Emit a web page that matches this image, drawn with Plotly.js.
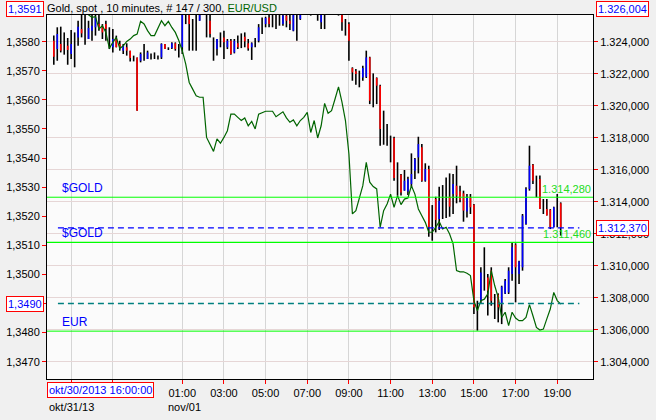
<!DOCTYPE html>
<html><head><meta charset="utf-8">
<script src="https://cdn.plot.ly/plotly-3.0.1.min.js"></script>
<style>html,body{margin:0;padding:0;background:#f0f0f0;}#chart{width:656px;height:420px;}</style>
</head><body><div id="chart"></div>
<script>
// Gold spot, 10-minute bars (USD), bar index 0..146
const gOpen = [
1324.06,1323.54,1323.86,1323.86,1323.75,1323.23,1323.65,1324.27,1324.79,1324.69,
1324.17,1324.69,1324.90,1325.10,1324.90,1325.10,1324.48,1323.65,1324.17,1323.86,
1323.44,1323.65,1323.44,1322.98,1323.02,1322.81,1323.33,1322.92,1323.06,1323.13,
1323.02,1323.02,1323.86,1323.56,1323.60,1323.90,1323.44,1323.65,1325.52,1325.73,
1324.48,1324.69,1325.31,1325.94,1325.10,1325.31,1323.65,1323.54,1324.06,1324.27,
1323.65,1324.06,1323.33,1323.90,1324.06,1324.31,1323.90,1323.65,1323.96,1324.06,
1325.00,1325.10,1325.52,1325.31,1325.21,1325.42,1325.10,1325.63,1325.31,1324.69,
1325.10,1325.42,1325.94,1326.15,1326.15,1326.35,1325.63,1325.21,1325.31,1326.15,
1326.15,1326.15,1325.94,1325.73,1325.00,1325.10,1322.35,1322.15,1321.77,1321.77,
1321.81,1323.02,1320.94,1321.73,1321.25,1318.54,1318.23,1317.40,1317.98,1315.94,
1315.69,1314.69,1314.63,1315.10,1315.94,1316.77,1317.40,1315.31,1316.04,1312.81,
1314.17,1312.92,1313.85,1314.27,1314.31,1314.48,1315.00,1314.65,1314.52,1313.38,
1314.27,1313.81,1307.40,1307.81,1309.69,1309.27,1309.69,1307.40,1308.19,1307.60,
1308.27,1308.33,1309.48,1311.31,1309.48,1309.90,1312.60,1314.79,1316.31,1315.10,
1315.42,1313.75,1313.54,1313.50,1312.40,1313.44,1313.90];
const gHigh = [
1324.38,1324.90,1324.94,1324.58,1324.23,1324.73,1324.58,1325.31,1325.73,1325.94,
1325.31,1325.83,1326.15,1325.94,1325.10,1325.31,1324.90,1324.79,1324.38,1324.06,
1323.86,1323.90,1323.44,1323.13,1323.02,1323.33,1323.86,1323.44,1323.27,1323.33,
1323.13,1323.90,1323.86,1323.65,1323.96,1323.96,1323.86,1326.15,1326.15,1326.15,
1325.42,1325.94,1326.15,1326.35,1325.94,1325.73,1324.27,1324.17,1324.58,1324.69,
1324.17,1324.17,1324.17,1324.38,1324.52,1324.58,1324.17,1323.96,1324.23,1325.10,
1325.52,1325.56,1325.73,1325.83,1325.83,1325.94,1325.94,1325.94,1325.94,1325.94,
1325.94,1326.15,1326.56,1326.56,1326.56,1326.77,1325.94,1325.94,1325.94,1326.56,
1326.56,1326.56,1326.35,1325.94,1325.42,1325.21,1322.40,1322.29,1322.19,1322.50,
1323.44,1323.06,1322.02,1321.77,1321.31,1319.69,1318.85,1318.13,1318.06,1316.46,
1315.73,1315.98,1315.56,1317.02,1316.73,1318.06,1317.60,1316.40,1316.25,1313.79,
1314.31,1314.94,1315.04,1315.52,1315.77,1315.73,1316.25,1315.00,1314.69,1314.48,
1314.48,1313.85,1307.81,1309.90,1311.15,1309.48,1309.90,1308.23,1308.27,1308.75,
1309.17,1309.90,1311.46,1311.40,1310.31,1313.23,1314.90,1317.50,1316.36,1315.63,
1315.63,1314.17,1314.17,1313.54,1313.69,1314.48,1313.96];
const gLow = [
1322.56,1322.81,1323.33,1323.19,1322.56,1322.92,1322.40,1323.75,1324.27,1323.81,
1324.17,1324.06,1324.38,1324.69,1324.17,1324.06,1323.54,1323.33,1323.65,1323.44,
1323.23,1323.13,1322.77,1322.77,1319.69,1322.71,1322.81,1322.92,1322.88,1322.92,
1322.88,1322.92,1323.54,1323.48,1323.54,1323.44,1323.02,1323.23,1325.10,1323.44,
1323.44,1323.44,1325.31,1325.83,1324.27,1324.27,1322.81,1323.13,1323.65,1322.92,
1323.54,1323.19,1323.27,1323.54,1323.60,1323.65,1323.44,1322.86,1323.65,1323.96,
1324.48,1324.90,1324.90,1324.90,1324.79,1325.00,1325.00,1324.90,1324.73,1324.65,
1324.06,1325.36,1325.83,1325.73,1325.63,1325.94,1325.31,1324.79,1324.79,1325.94,
1325.94,1325.94,1325.63,1324.69,1324.38,1322.81,1321.56,1321.31,1321.15,1321.56,
1321.73,1320.10,1319.90,1320.10,1317.50,1317.56,1317.50,1316.46,1315.31,1314.38,
1314.38,1314.69,1314.42,1314.94,1315.42,1315.77,1315.25,1315.25,1311.81,1311.56,
1312.08,1312.23,1312.92,1312.98,1313.06,1313.23,1313.90,1313.96,1312.75,1313.02,
1313.23,1306.98,1305.94,1307.60,1308.44,1306.88,1307.50,1306.67,1306.46,1306.35,
1308.23,1308.23,1309.06,1307.71,1308.86,1309.69,1312.56,1314.69,1315.10,1314.27,
1313.54,1313.23,1313.13,1312.29,1312.40,1312.40,1311.88];
const gClose = [
1323.06,1324.48,1323.44,1323.86,1323.48,1323.86,1323.65,1324.94,1324.52,1324.69,
1324.86,1325.00,1325.52,1324.79,1324.58,1324.79,1324.48,1324.17,1323.65,1323.60,
1323.75,1323.44,1322.98,1322.98,1319.69,1323.23,1323.33,1323.33,1323.06,1323.13,
1323.02,1323.86,1323.54,1323.56,1323.90,1323.54,1323.44,1325.73,1325.52,1325.10,
1324.48,1324.69,1325.73,1326.15,1325.10,1324.48,1323.65,1324.17,1324.06,1323.96,
1324.06,1323.23,1324.06,1323.65,1324.06,1324.02,1323.58,1323.90,1323.96,1324.90,
1325.00,1325.48,1325.10,1325.31,1325.21,1325.42,1325.63,1325.31,1325.10,1325.73,
1325.10,1325.83,1326.35,1326.15,1326.15,1326.35,1325.63,1325.73,1325.31,1326.15,
1326.15,1326.15,1325.94,1325.21,1325.00,1324.06,1322.08,1321.98,1321.77,1322.35,
1323.02,1320.31,1320.94,1321.25,1318.54,1318.54,1318.23,1317.40,1315.48,1315.94,
1314.58,1315.31,1315.42,1315.73,1316.67,1317.60,1315.31,1316.04,1312.40,1312.81,
1312.86,1314.06,1313.85,1314.27,1313.69,1315.10,1314.38,1314.10,1313.44,1314.27,
1313.65,1307.40,1307.40,1309.58,1309.69,1308.44,1307.81,1307.40,1307.40,1308.69,
1309.06,1309.69,1311.15,1309.90,1310.27,1313.13,1314.79,1316.25,1315.31,1315.10,
1313.54,1313.75,1313.13,1312.40,1313.65,1313.44,1312.37];
// EUR/USD close per bar
const eurUsd = [
1.35940,1.35960,1.35970,1.35950,1.35960,1.35980,1.35970,1.35950,1.35930,1.35910,
1.35892,1.35884,1.35886,1.35844,1.35855,1.35832,1.35777,1.35798,1.35815,1.35777,
1.35786,1.35801,1.35809,1.35821,1.35826,1.35870,1.35861,1.35838,1.35821,1.35821,
1.35849,1.35872,1.35855,1.35870,1.35849,1.35832,1.35804,1.35769,1.35723,1.35660,
1.35637,1.35614,1.35609,1.35609,1.35471,1.35448,1.35423,1.35466,1.35451,1.35471,
1.35494,1.35551,1.35551,1.35540,1.35529,1.35538,1.35511,1.35526,1.35500,1.35551,
1.35556,1.35561,1.35561,1.35561,1.35542,1.35551,1.35559,1.35538,1.35523,1.35531,
1.35511,1.35529,1.35540,1.35557,1.35488,1.35529,1.35469,1.35511,1.35588,1.35554,
1.35563,1.35603,1.35645,1.35592,1.35529,1.35414,1.35208,1.35219,1.35259,1.35305,
1.35385,1.35317,1.35302,1.35294,1.35162,1.35219,1.35242,1.35276,1.35231,1.35271,
1.35240,1.35259,1.35263,1.35305,1.35276,1.35225,1.35202,1.35179,1.35145,1.35145,
1.35162,1.35182,1.35156,1.35162,1.35139,1.35105,1.35013,1.35009,1.35009,1.35004,
1.34996,1.34910,1.34875,1.34910,1.34915,1.34933,1.35013,1.34961,1.34921,1.34852,
1.34870,1.34824,1.34870,1.34850,1.34841,1.34841,1.34852,1.34896,1.34858,1.34818,
1.34809,1.34812,1.34847,1.34881,1.34938,1.34910,1.34898];

// time axis ticks (bar index) and labels
const tickBars = [5, 17, 37, 49, 61, 73, 85, 97, 109, 121, 133, 145];
const tickLabels = ['', '', '01:00', '03:00', '05:00', '07:00', '09:00', '11:00', '13:00', '15:00', '17:00', '19:00'];
const goldTicks = [1304, 1306, 1308, 1310, 1312, 1314, 1316, 1318, 1320, 1322, 1324];
const eurTicks = [1.3470, 1.3480, 1.3490, 1.3500, 1.3510, 1.3520, 1.3530, 1.3540, 1.3550, 1.3560, 1.3570, 1.3580];

// levels
const goldLevels = [1314.28, 1311.46];
const goldCurrent = 1312.37;
const goldTop = 1326.004;
const eurCurrent = 1.3490;
const eurTop = 1.3591;
const eurLevel = 1.34805;
const startLabel = 'okt/30/2013 16:00:00';
const dateLabels = ['okt/31/13', 'nov/01'];

const fmtGold = v => { const s = v.toFixed(3).split('.'); return s[0].replace(/\B(?=(\d{3})+(?!\d))/g, '.') + ',' + s[1]; };
const fmtEur = v => v.toFixed(4).replace('.', ',');
// the current-value box replaces the tick label at that level
const eurTickText = eurTicks.map(v => Math.abs(v - eurCurrent) < 1e-9 ? '' : fmtEur(v));

const idx = gOpen.map((_, i) => i);
const wx = [], wy = [], ux = [], uy = [], dx = [], dy = [];
idx.forEach(i => {
  wx.push(i, i, null); wy.push(gLow[i], gHigh[i], null);
  if (gClose[i] > gOpen[i]) { ux.push(i, i, null); uy.push(gOpen[i], gClose[i], null); }
  else if (gClose[i] < gOpen[i]) { dx.push(i, i, null); dy.push(gOpen[i], gClose[i], null); }
});

const FONT = 'Liberation Sans, Arial, sans-serif';
const traces = [
  {x: wx, y: wy, yaxis: 'y', mode: 'lines', line: {color: '#000000', width: 1.6}, hoverinfo: 'skip', connectgaps: false},
  {x: ux, y: uy, yaxis: 'y', mode: 'lines', line: {color: '#0000ff', width: 1.6}, hoverinfo: 'skip', connectgaps: false},
  {x: dx, y: dy, yaxis: 'y', mode: 'lines', line: {color: '#ff0000', width: 1.6}, hoverinfo: 'skip', connectgaps: false},
  {x: idx, y: eurUsd, yaxis: 'y2', mode: 'lines', line: {color: '#006400', width: 1.2}, hoverinfo: 'skip'}
];

const shapes = [
  {type: 'line', xref: 'paper', x0: 0, x1: 1, yref: 'y', y0: goldLevels[0], y1: goldLevels[0], line: {color: '#00ff00', width: 1}},
  {type: 'line', xref: 'paper', x0: 0, x1: 1, yref: 'y', y0: goldLevels[1], y1: goldLevels[1], line: {color: '#00ff00', width: 1.3}},
  {type: 'line', xref: 'paper', x0: 0.02, x1: 0.975, yref: 'y', y0: goldCurrent, y1: goldCurrent, line: {color: '#0000ff', width: 1.3, dash: '6px,4px'}},
  {type: 'line', xref: 'paper', x0: 0.02, x1: 0.975, yref: 'y2', y0: eurCurrent, y1: eurCurrent, line: {color: '#008080', width: 1.3, dash: '6px,4px'}},
  {type: 'line', xref: 'paper', x0: 0, x1: 1, yref: 'y2', y0: eurLevel, y1: eurLevel, line: {color: '#00ff00', width: 1}}
];

const boxFont = {family: FONT, size: 11, color: '#0000ff'};
const box = {showarrow: false, bordercolor: '#ff0000', borderwidth: 1, borderpad: 1, bgcolor: '#ffffff', font: boxFont};
const annotations = [
  {xref: 'paper', yref: 'paper', x: 0, y: 1, xanchor: 'left', yanchor: 'bottom', xshift: -2, yshift: -1, showarrow: false,
   text: 'Gold, spot , 10 minutes, # 147 / 300, <span style="color:#006400">EUR/USD</span>', font: {family: FONT, size: 11, color: '#000000'}},
  Object.assign({xref: 'paper', yref: 'paper', x: 0, y: 1, xanchor: 'right', yanchor: 'middle', xshift: -3, yshift: 6, text: fmtEur(eurTop)}, box),
  Object.assign({xref: 'paper', yref: 'y2', x: 0, y: eurCurrent, xanchor: 'right', yanchor: 'middle', xshift: -3, text: fmtEur(eurCurrent)}, box),
  Object.assign({xref: 'paper', yref: 'paper', x: 1, y: 1, xanchor: 'left', yanchor: 'middle', xshift: 3, yshift: 6, text: fmtGold(goldTop)}, box),
  Object.assign({xref: 'paper', yref: 'y', x: 1, y: goldCurrent, xanchor: 'left', yanchor: 'middle', xshift: 3, text: fmtGold(goldCurrent)}, box),
  Object.assign({xref: 'paper', yref: 'paper', x: 0, y: 0, xanchor: 'left', yanchor: 'top', yshift: -3, text: startLabel}, box),
  {xref: 'paper', yref: 'paper', x: 0, y: 0, xanchor: 'left', yanchor: 'top', yshift: -20, showarrow: false, text: dateLabels[0], font: {family: FONT, size: 11, color: '#000000'}},
  {xref: 'paper', yref: 'paper', x: 0.2174, y: 0, xanchor: 'left', yanchor: 'top', yshift: -20, showarrow: false, text: dateLabels[1], font: {family: FONT, size: 11, color: '#000000'}},
  {xref: 'paper', yref: 'y', x: 0.0238, y: goldLevels[0], xanchor: 'left', yanchor: 'bottom', showarrow: false, text: '$GOLD', font: {family: FONT, size: 12, color: '#0000ff'}},
  {xref: 'paper', yref: 'y', x: 0.0238, y: goldLevels[1], xanchor: 'left', yanchor: 'bottom', showarrow: false, text: '$GOLD', font: {family: FONT, size: 12, color: '#0000ff'}},
  {xref: 'paper', yref: 'y2', x: 0.0238, y: eurLevel, xanchor: 'left', yanchor: 'bottom', showarrow: false, text: 'EUR', font: {family: FONT, size: 12, color: '#0000ff'}},
  {xref: 'paper', yref: 'y', x: 1, y: goldLevels[0], xanchor: 'right', yanchor: 'bottom', showarrow: false, text: fmtGold(goldLevels[0]), font: {family: FONT, size: 11, color: '#22dd22'}},
  {xref: 'paper', yref: 'y', x: 1, y: goldLevels[1], xanchor: 'right', yanchor: 'bottom', showarrow: false, text: fmtGold(goldLevels[1]), font: {family: FONT, size: 11, color: '#22dd22'}}
];

const layout = {
  width: 656, height: 420,
  margin: {l: 47, r: 63, t: 15, b: 41, pad: 0},
  paper_bgcolor: '#f0f0f0', plot_bgcolor: '#fbfbfb',
  separators: ',.',
  showlegend: false,
  font: {family: FONT, size: 11, color: '#000000'},
  xaxis: {range: [-1.96, 155.3], tickmode: 'array', tickvals: tickBars, ticktext: tickLabels,
    showgrid: true, gridcolor: '#d6d6d6', gridwidth: 1, zeroline: false,
    showline: true, mirror: true, linecolor: '#000000', linewidth: 1,
    ticks: 'outside', ticklen: 4, tickcolor: '#ff0000', tickfont: {family: FONT, size: 11, color: '#000000'}},
  yaxis: {side: 'right', range: [1302.919, 1325.669], tickmode: 'array', tickvals: goldTicks, tickformat: ',.3f',
    showgrid: true, gridcolor: '#e6d6d6', gridwidth: 1, zeroline: false,
    showline: true, linecolor: '#000000', linewidth: 1,
    ticks: 'outside', ticklen: 4, tickcolor: '#ff0000', tickfont: {family: FONT, size: 11, color: '#000000'}},
  yaxis2: {side: 'left', overlaying: 'y', range: [1.346405, 1.358918], tickmode: 'array', tickvals: eurTicks, ticktext: eurTickText,
    showgrid: false, zeroline: false, showline: true, linecolor: '#000000', linewidth: 1,
    ticks: 'outside', ticklen: 4, tickcolor: '#ff0000', tickfont: {family: FONT, size: 11, color: '#000000'}},
  shapes: shapes,
  annotations: annotations
};

Plotly.newPlot('chart', traces, layout, {staticPlot: true, displayModeBar: false});
</script>
</body></html>
